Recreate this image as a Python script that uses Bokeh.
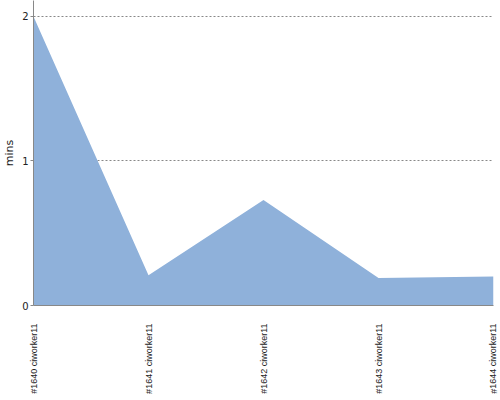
from bokeh.plotting import figure
from bokeh.models import Range1d, FixedTicker, ColumnDataSource
from bokeh.embed import file_html
from bokeh.resources import INLINE

categories = ["#1640 ciworker11", "#1641 ciworker11", "#1642 ciworker11",
              "#1643 ciworker11", "#1644 ciworker11"]
mins = [2.0, 0.21, 0.73, 0.19, 0.20]
y_ticks = [0, 1, 2]

idx = list(range(len(categories)))
src = ColumnDataSource(dict(x=idx, y=mins, base=[0] * len(mins)))

p = figure(frame_width=460, frame_height=305, output_backend="svg",
           toolbar_location=None, x_range=Range1d(0, len(categories) - 1),
           y_range=Range1d(0, 2.11), min_border_left=0, min_border_right=5,
           min_border_top=0, min_border_bottom=0)
p.outline_line_color = None
p.background_fill_color = "white"

p.varea(x="x", y1="base", y2="y", source=src, fill_color="#8FB1DA", fill_alpha=1.0)

# x axis
p.xaxis.ticker = FixedTicker(ticks=idx)
p.xaxis.major_label_overrides = {i: c for i, c in enumerate(categories)}
p.xaxis.major_label_orientation = 1.5708
p.xaxis.major_label_text_font = "Liberation Sans"
p.xaxis.major_label_text_font_size = "9px"
p.xaxis.major_label_text_color = "#222222"
p.xaxis.major_label_standoff = 18
p.xaxis.major_tick_out = 0
p.xaxis.major_tick_in = 0
p.xaxis.minor_tick_out = 0
p.xaxis.minor_tick_in = 0
p.xaxis.axis_line_color = "#888888"
p.xgrid.grid_line_color = None

# y axis
p.yaxis.ticker = FixedTicker(ticks=y_ticks)
p.yaxis.axis_label = "mins"
p.yaxis.axis_label_text_font = "DejaVu Sans"
p.yaxis.axis_label_text_font_size = "11px"
p.yaxis.axis_label_text_font_style = "normal"
p.yaxis.axis_label_text_color = "#222222"
p.yaxis.axis_label_standoff = 3
p.yaxis.major_label_text_font = "DejaVu Sans"
p.yaxis.major_label_text_font_size = "10px"
p.yaxis.major_label_text_color = "#222222"
p.yaxis.major_label_standoff = 2
p.yaxis.major_tick_out = 3
p.yaxis.major_tick_in = 0
p.yaxis.minor_tick_out = 0
p.yaxis.minor_tick_in = 0
p.yaxis.axis_line_color = "#888888"
p.yaxis.major_tick_line_color = "#888888"
p.ygrid.grid_line_color = "#888888"
p.ygrid.grid_line_dash = "2 2"
p.ygrid.grid_line_width = 1

open("out.html", "w").write(file_html(p, INLINE))
